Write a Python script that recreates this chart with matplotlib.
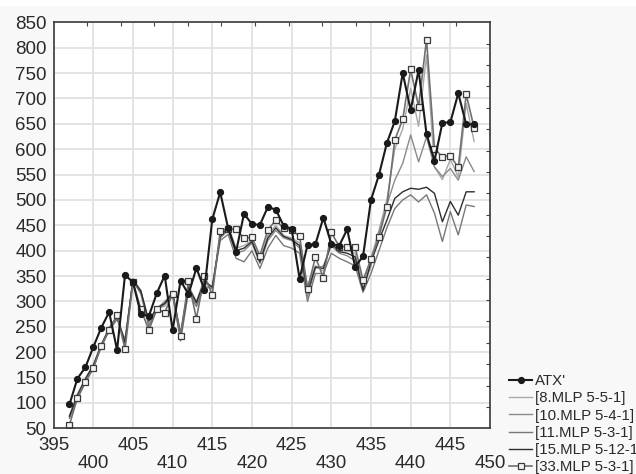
import matplotlib
matplotlib.use("Agg")
import matplotlib.pyplot as plt
from matplotlib.ticker import FixedLocator
from matplotlib.patches import Rectangle

plt.rcParams['font.family'] = ['Liberation Sans', 'DejaVu Sans']

x = list(range(397, 449))

atx = [97, 148, 170, 210, 248, 279, 204, 352, 338, 275, 271, 316, 351, 243, 341,
       314, 366, 323, 462, 515, 444, 398, 473, 452, 451, 486, 481, 449, 443, 345,
       411, 413, 465, 413, 410, 442, 368, 389, 500, 549, 612, 655, 750, 677, 756,
       630, 577, 652, 653, 710, 649, 649]

mlp8 = [75, 118, 148, 175, 215, 248, 270, 215, 345, 318, 260, 288, 290, 318, 238,
        330, 300, 345, 325, 430, 450, 405, 410, 420, 380, 430, 450, 430, 425, 415,
        330, 370, 360, 420, 400, 400, 395, 335, 385, 440, 500, 600, 640, 720, 645,
        785, 565, 540, 580, 545, 690, 615]

mlp10 = [72, 112, 145, 172, 212, 245, 268, 220, 342, 322, 255, 285, 300, 315, 228,
         325, 295, 335, 330, 425, 440, 395, 400, 415, 375, 420, 440, 425, 420, 405,
         310, 365, 370, 410, 395, 390, 380, 325, 370, 435, 490, 539, 572, 628, 575,
         624, 565, 546, 562, 539, 585, 556]

mlp11 = [70, 108, 140, 168, 210, 242, 265, 225, 340, 315, 250, 282, 295, 312, 222,
         320, 290, 330, 325, 420, 432, 385, 378, 400, 365, 405, 430, 410, 405, 395,
         300, 355, 355, 395, 385, 378, 370, 318, 355, 400, 445, 483, 500, 510, 496,
         510, 474, 418, 477, 431, 490, 487]

mlp15 = [74, 115, 147, 174, 214, 247, 271, 218, 343, 320, 262, 287, 296, 318, 235,
         328, 298, 340, 328, 428, 445, 400, 405, 418, 378, 425, 445, 428, 422, 410,
         318, 368, 365, 415, 398, 395, 388, 322, 378, 420, 460, 503, 516, 523, 521,
         525, 513, 457, 497, 470, 516, 516]

mlp33 = [57, 110, 142, 169, 212, 244, 273, 206, 338, 285, 243, 285, 278, 314, 232,
         340, 266, 351, 313, 439, 443, 442, 425, 426, 390, 441, 460, 444, 440, 429,
         325, 387, 347, 436, 408, 408, 407, 342, 383, 427, 487, 618, 659, 757, 684,
         816, 601, 585, 587, 564, 708, 642]

labels = ["ATX'", "[8.MLP 5-5-1]", "[10.MLP 5-4-1]", "[11.MLP 5-3-1]",
          "[15.MLP 5-12-1]", "[33.MLP 5-3-1]"]

fig = plt.figure(figsize=(6.36, 4.74), dpi=100, facecolor='#f8f8f8')
fig.add_artist(Rectangle((0, 1 - 5 / 474), 1, 5 / 474, transform=fig.transFigure,
                         color='white', zorder=-1))
ax = fig.add_axes([53.6 / 636, 1 - 428.3 / 474, (490 - 53.6) / 636, (428.3 - 22.3) / 474])
ax.set_facecolor('white')

h8, = ax.plot(x, mlp8, color='#a8a8a8', lw=1.0)
h10, = ax.plot(x, mlp10, color='#8a8a8a', lw=1.0)
h11, = ax.plot(x, mlp11, color='#787878', lw=1.0)
h15, = ax.plot(x, mlp15, color='#2e2e2e', lw=1.0)
h33, = ax.plot(x, mlp33, color='#707070', lw=1.2, marker='s', ms=5,
               mfc='#f4f4f4', mec='#3a3a3a', mew=0.9)
ha, = ax.plot(x, atx, color='#1a1a1a', lw=1.5, marker='o', ms=4.2,
              mfc='#1a1a1a', mec='#1a1a1a')

ax.set_xlim(395, 450)
ax.set_ylim(50, 850)
xt = list(range(395, 451, 5))
ax.set_xticks(xt)
ax.set_xticklabels([str(v) if v % 10 == 5 else '\n' + str(v) for v in xt],
                   linespacing=1.05)
ax.set_yticks(list(range(50, 851, 50)))
ax.tick_params(which='major', length=0, labelsize=13.5, colors='#2a2a2a')
ax.tick_params(axis='y', which='major', pad=5)
ax.tick_params(axis='x', which='major', pad=6.5)
ax.xaxis.set_minor_locator(FixedLocator([395 + k * 55 / 13 for k in range(1, 13)]))
ax.yaxis.set_minor_locator(FixedLocator([50 + k * 800 / 19 for k in range(1, 19)]))
ax.tick_params(which='minor', direction='in', length=3, width=0.8, color='#404040',
               bottom=False, top=True, left=False, right=True)
ax.grid(True, which='major', color='#e2e2e2', lw=1.3)
ax.set_axisbelow(True)
for s in ax.spines.values():
    s.set_color('#3a3a3a')
    s.set_linewidth(1.2)

leg = fig.legend([ha, h8, h10, h11, h15, h33], labels,
                 loc='upper left', bbox_to_anchor=(509 / 636, 1 - 374 / 474),
                 frameon=False, fontsize=10.8, handlelength=1.55, handletextpad=0.2,
                 labelspacing=0.22, borderpad=0, borderaxespad=0)
for t in leg.get_texts():
    t.set_color('#2a2a2a')

fig.savefig('out.png', dpi=100, facecolor=fig.get_facecolor())
